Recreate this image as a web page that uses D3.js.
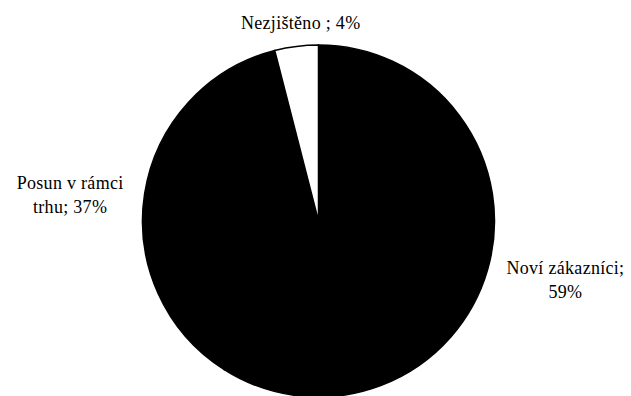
<!DOCTYPE html>
<html>
<head>
<meta charset="utf-8">
<script src="https://cdn.jsdelivr.net/npm/d3@7"></script>
<style>
  html, body { margin: 0; padding: 0; background: #fff; }
  svg { display: block; }
</style>
</head>
<body>
<svg id="chart" width="631" height="396"></svg>
<script>
// Slice data, drawn clockwise from 12 o'clock
const categories = ["Noví zákazníci", "Posun v rámci trhu", "Nezjištěno"];
const values = [59, 37, 4];
const labelLines = [["Noví zákazníci;", "59%"], ["Posun v rámci", "trhu; 37%"], ["Nezjištěno ; 4%"]];
const fills = ["#000000", "#000000", "#ffffff"];

const width = 631, height = 396;
const cx = 318.5, cy = 221, radius = 176;
const labelGap = 18, lineHeight = 24;
const fontStack = "'Liberation Serif', 'Times New Roman', Times, 'DejaVu Serif', serif";
// fine placement of each label after the radial layout
const labelNudge = [[4, -1], [-4, 8], [14, 4]];

const svg = d3.select("#chart");
const g = svg.append("g").attr("transform", `translate(${cx},${cy})`);

const pie = d3.pie().sort(null).value(d => d)
  .startAngle(0).endAngle(2 * Math.PI);
const arcs = pie(values);
const arc = d3.arc().innerRadius(0).outerRadius(radius);

g.selectAll("path.slice")
  .data(arcs)
  .join("path")
  .attr("class", "slice")
  .attr("d", arc)
  .attr("fill", (d, i) => fills[i])
  .attr("stroke", "#000")
  .attr("stroke-width", 1.5)
  .attr("stroke-linejoin", "miter");

// Labels sit just outside the rim, pushed outward along each slice's mid-angle
arcs.forEach((a, i) => {
  const mid = (a.startAngle + a.endAngle) / 2;
  const ux = Math.sin(mid), uy = -Math.cos(mid);
  const t = g.append("text")
    .attr("text-anchor", "middle")
    .attr("font-family", fontStack)
    .attr("font-size", 18)
    .attr("letter-spacing", 0.3)
    .attr("fill", "#000");
  labelLines[i].forEach((line, k) => {
    t.append("tspan").attr("x", 0).attr("dy", k === 0 ? 0 : lineHeight).text(line);
  });
  const bb = t.node().getBBox();
  const r = radius + labelGap;
  const bx = ux * r + ux * bb.width / 2 + labelNudge[i][0];
  const by = uy * r + uy * bb.height / 2 + labelNudge[i][1];
  // shift so the box centre lands on (bx, by)
  const dx = bx - (bb.x + bb.width / 2);
  const dy = by - (bb.y + bb.height / 2);
  t.attr("transform", `translate(${dx},${dy})`);
});
</script>
</body>
</html>
